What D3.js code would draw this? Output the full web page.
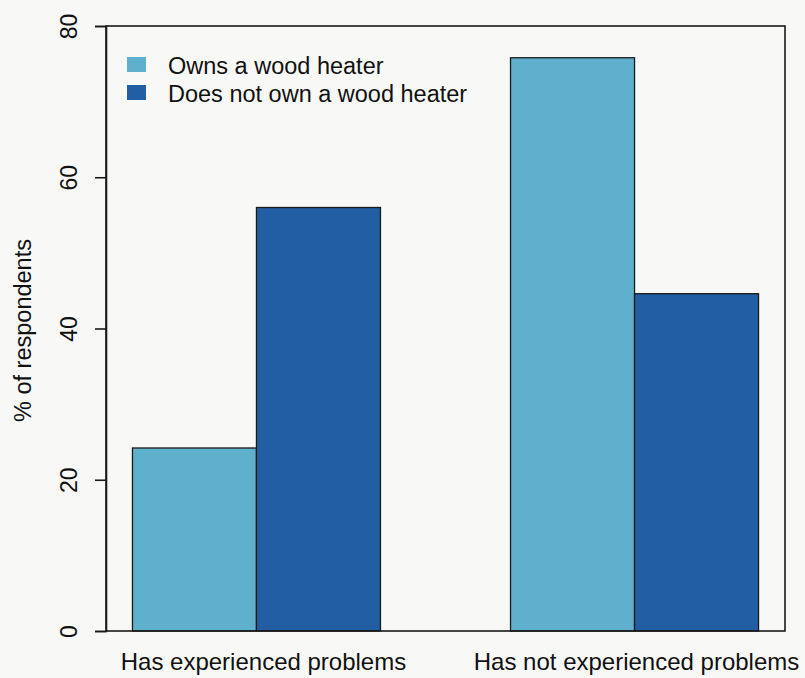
<!DOCTYPE html>
<html lang="en">
<head>
<meta charset="UTF-8">
<title>wood heaters</title>
<script src="https://d3js.org/d3.v7.min.js"></script>
<style>
  body { margin: 0; background: #f8f8f6; }
  svg { display: block; background: #f8f8f6; }
  text { font-family: "Liberation Sans", Arial, sans-serif; fill: #111; }
</style>
</head>
<body>
<div id="viz"></div>
<script>
  var groups = ['Has experienced problems', 'Has not experienced problems'];
  var series = ['Owns a wood heater', 'Does not own a wood heater'];
  var owns = [24.2, 75.8];
  var notOwns = [56.0, 44.6];
  var yTicks = [0, 20, 40, 60, 80];
  var colors = ['#5fb0cc', '#215ea3'];

  var W = 805, H = 678;
  var box = {left: 106, right: 785, top: 26, bottom: 631};

  var svg = d3.select('#viz').append('svg')
      .attr('width', W).attr('height', H);

  var y = d3.scaleLinear().domain([0, 80]).range([box.bottom, box.top]);

  // outer band for the two groups, inner band for the two bars
  var x0 = d3.scaleBand().domain(groups)
      .range([box.left, box.right]).paddingInner(0.344).paddingOuter(0.07);
  var x1 = d3.scaleBand().domain(series).range([0, x0.bandwidth()]);

  var rows = groups.map(function (g, i) {
    return {group: g, values: [owns[i], notOwns[i]]};
  });

  var gg = svg.selectAll('.grp').data(rows).enter().append('g')
      .attr('class', 'grp')
      .attr('transform', function (d) { return 'translate(' + x0(d.group) + ',0)'; });

  gg.selectAll('rect')
    .data(function (d) { return d.values.map(function (v, j) { return {s: series[j], v: v, j: j}; }); })
    .enter().append('rect')
      .attr('x', function (d) { return x1(d.s); })
      .attr('width', x1.bandwidth())
      .attr('y', function (d) { return y(d.v); })
      .attr('height', function (d) { return y(0) - y(d.v); })
      .attr('fill', function (d) { return colors[d.j]; })
      .attr('stroke', '#1a1a1a')
      .attr('stroke-width', 1.3);

  // box
  svg.append('rect')
    .attr('x', box.left).attr('y', box.top)
    .attr('width', box.right - box.left).attr('height', box.bottom - box.top)
    .attr('fill', 'none').attr('stroke', '#1a1a1a').attr('stroke-width', 1.6);

  // y axis, R style
  var yAxis = svg.append('g')
      .attr('transform', 'translate(' + box.left + ',0)')
      .call(d3.axisLeft(y).tickValues(yTicks).tickSize(11).tickPadding(0).tickFormat(d3.format('d')));
  yAxis.select('.domain').attr('stroke', '#1a1a1a').attr('stroke-width', 1.6);
  yAxis.selectAll('.tick line').attr('stroke', '#1a1a1a').attr('stroke-width', 1.6);
  yAxis.selectAll('.tick text')
      .attr('x', 0).attr('dy', 0)
      .attr('transform', 'translate(-29,0) rotate(-90)')
      .attr('text-anchor', 'middle')
      .style('font-size', '23px')
      .style('font-family', '"Liberation Sans", Arial, sans-serif')
      .attr('fill', '#111');

  svg.append('text')
    .attr('transform', 'translate(31,' + ((box.top + box.bottom) / 2 + 2) + ') rotate(-90)')
    .attr('text-anchor', 'middle')
    .style('font-size', '23.5px')
    .text('% of respondents');

  // group labels
  svg.selectAll('.xlab').data(groups).enter().append('text')
    .attr('class', 'xlab')
    .attr('x', function (d, i) { return x0(d) + x0.bandwidth() / 2 + (i === 0 ? 7 : 2); })
    .attr('y', 670)
    .attr('text-anchor', 'middle')
    .style('font-size', '24px')
    .text(function (d) { return d; });

  // legend
  var leg = svg.selectAll('.leg').data(series).enter().append('g')
      .attr('class', 'leg')
      .attr('transform', function (d, i) { return 'translate(127,' + (57 + i * 28) + ')'; });
  leg.append('rect').attr('width', 19).attr('height', 15)
      .attr('fill', function (d, i) { return colors[i]; });
  leg.append('text').attr('x', 41).attr('y', 17)
      .style('font-size', '23.5px')
      .text(function (d) { return d; });
</script>
</body>
</html>
